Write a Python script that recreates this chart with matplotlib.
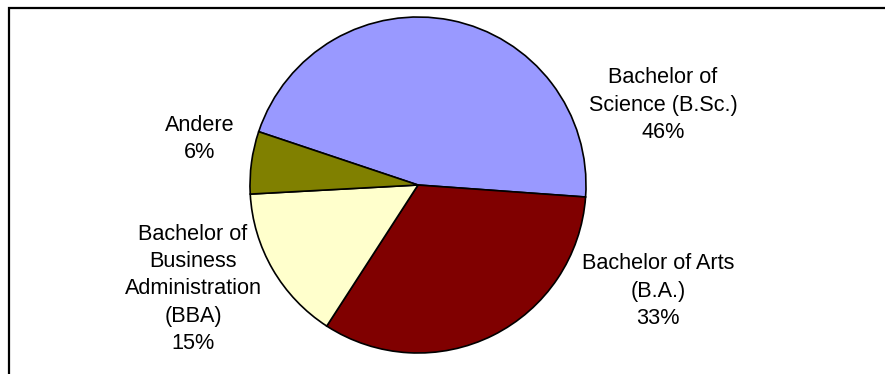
import matplotlib
matplotlib.use("Agg")
import matplotlib.pyplot as plt
from matplotlib.patches import Rectangle

# Degree shares
categories = ["Bachelor of\nScience (B.Sc.)", "Bachelor of Arts\n(B.A.)",
              "Bachelor of\nBusiness\nAdministration\n(BBA)", "Andere"]
shares = [46, 33, 15, 6]
colors = ["#9999FF", "#800000", "#FFFFCC", "#808000"]

# label anchor points (in pie radius units)
label_pos = [(1.458, 0.476), (1.429, -0.631), (-1.339, -0.619), (-1.298, 0.274)]

W, H = 885, 374
fig = plt.figure(figsize=(W / 100, H / 100), dpi=100)
fig.patch.set_facecolor("white")

# outer chart frame
fig.patches.append(Rectangle((8.5 / W, -0.1), 1.2, (H - 8.5) / H + 0.1,
                             transform=fig.transFigure, fill=False,
                             edgecolor="black", linewidth=1.6))

cx, cy, r = 418, 185, 168
ax = fig.add_axes([(cx - r) / W, (H - cy - r) / H, 2 * r / W, 2 * r / H])
ax.pie(shares, colors=colors, startangle=161.5, counterclock=False, radius=1,
       wedgeprops=dict(edgecolor="black", linewidth=1.2))
ax.set_xlim(-1, 1)
ax.set_ylim(-1, 1)
ax.set_aspect("equal")
ax.axis("off")

for name, v, (x, y) in zip(categories, shares, label_pos):
    ax.text(x, y, f"{name}\n{v}%", ha="center", va="center",
            fontsize=15.6, family=["Liberation Sans", "DejaVu Sans"],
            linespacing=1.4, clip_on=False)

fig.savefig("out.png", dpi=100, facecolor="white")
